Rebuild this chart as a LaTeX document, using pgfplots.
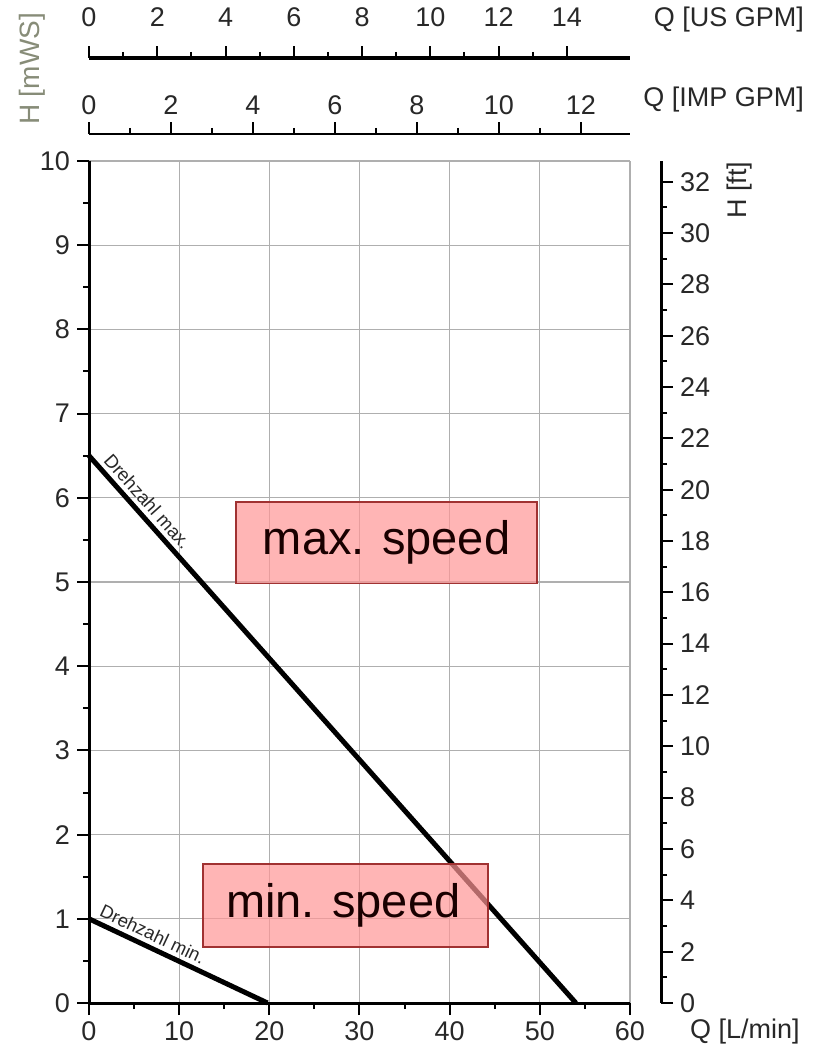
\documentclass[border=0pt]{standalone}
\usepackage{fontspec}
\setmainfont{Liberation Sans}
\usepackage{pgfplots}
\pgfplotsset{compat=1.18}
\definecolor{boxfill}{RGB}{255,150,150}
\definecolor{boxdraw}{RGB}{160,50,50}
\definecolor{gridc}{RGB}{175,175,175}
\definecolor{txt}{RGB}{40,40,40}
\definecolor{hlab}{RGB}{135,140,120}
\begin{document}
\begin{tikzpicture}
\pgfplotsset{
  common/.style={scale only axis, width=270.5pt,
    /pgf/number format/assume math mode=true,
    tick style={line width=1pt, black},
    major tick length=6pt, minor tick length=3pt,
    ticklabel style={font=\fontsize{13.5}{14}\selectfont, text=txt}},
}
% main axis
\begin{axis}[common, height=421pt, xmin=0, xmax=60, ymin=0, ymax=10,
  axis x line=bottom, axis y line=left, tick align=outside,
  xtick={0,10,...,60}, ytick={0,1,...,10}, minor x tick num=1, minor y tick num=1,
  grid=major, major grid style={gridc, line width=0.6pt}, clip=false,
  axis line style={-, line width=1.5pt, black}]
\addplot[black, line width=2.5pt] coordinates {(0,6.5) (54,0)}
  node[pos=0.1, sloped, above=1.5pt, inner sep=0.5pt, font=\fontsize{9.3}{10}\selectfont, text=txt] {Drehzahl max.};
\addplot[black, line width=2.5pt] coordinates {(0,1) (19.8,0)}
  node[pos=0.325, sloped, above=1.5pt, inner sep=0.5pt, font=\fontsize{9.2}{10}\selectfont, text=txt] {Drehzahl min.};
\fill[boxfill, fill opacity=0.7] (axis cs:16.3,4.98) rectangle (axis cs:49.68,5.95);
\draw[boxdraw, line width=0.8pt] (axis cs:16.3,4.98) rectangle (axis cs:49.68,5.95);
\node[font=\fontsize{23.5}{24}\selectfont, text=black!90!red] at (axis cs:33,5.465) {max. speed};
\fill[boxfill, fill opacity=0.7] (axis cs:12.64,0.665) rectangle (axis cs:44.25,1.65);
\draw[boxdraw, line width=0.8pt] (axis cs:12.64,0.665) rectangle (axis cs:44.25,1.65);
\node[font=\fontsize{23.5}{24}\selectfont, text=black!90!red] at (axis cs:28.2,1.16) {min. speed};
\end{axis}
% right axis (ft)
\begin{axis}[common, height=421pt, at={(15.5pt,0)}, xmin=0, xmax=1,
  ymin=0, ymax=32.8084, hide x axis, axis y line=right, tick align=outside,
  ytick={0,2,...,32}, minor y tick num=1,
  axis line style={-, line width=1.5pt, black}]
\end{axis}
% IMP GPM axis
\begin{axis}[common, height=1pt, at={(0,433.5pt)}, ymin=0, ymax=1, hide y axis,
  axis x line=top, tick align=outside, xmin=0, xmax=13.198,
  xtick={0,2,...,12}, minor x tick num=1,
  axis line style={-, line width=1.2pt, black}]
\end{axis}
% US GPM axis
\begin{axis}[common, height=1pt, at={(0,471.5pt)}, ymin=0, ymax=1, hide y axis,
  axis x line=top, tick align=outside, xmin=0, xmax=15.8503,
  xtick={0,2,...,14}, minor x tick num=1,
  xticklabel style={yshift=6pt},
  axis line style={-, line width=2pt, black}]
\end{axis}
\node[font=\fontsize{13.5}{14}\selectfont, text=txt] at (328pt,-14.5pt) {Q [L/min]};
\node[font=\fontsize{13.5}{14}\selectfont, text=txt, anchor=east] at (361pt,491.5pt) {Q [US GPM]};
\node[font=\fontsize{13.5}{14}\selectfont, text=txt, anchor=east] at (361pt,451.5pt) {Q [IMP GPM]};
\node[font=\fontsize{14}{15}\selectfont, text=hlab, rotate=90] at (-28.5pt,467pt) {H [mWS]};
\node[font=\fontsize{13.5}{14}\selectfont, text=txt, rotate=90] at (325.5pt,406.5pt) {H [ft]};
\pgfresetboundingbox
\path (-44.5pt,-26.5pt) rectangle (374.5pt,501.5pt);
\end{tikzpicture}
\end{document}
